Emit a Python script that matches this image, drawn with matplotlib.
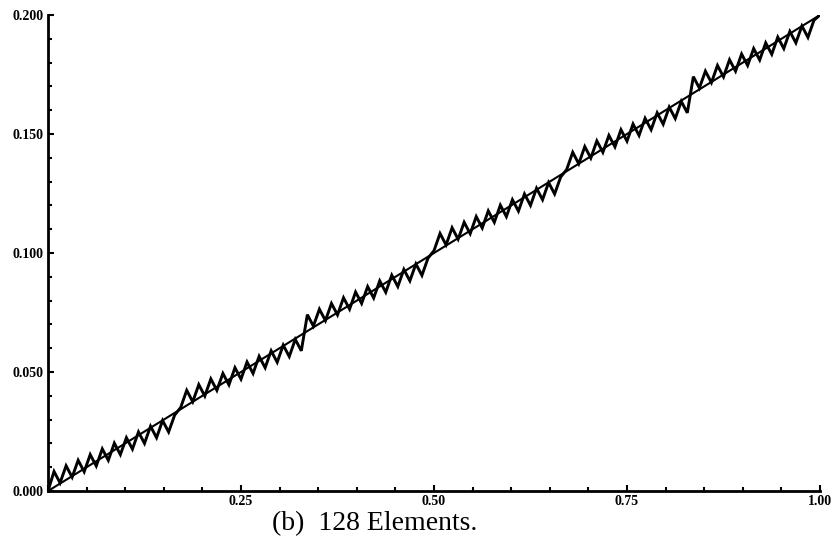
import matplotlib
matplotlib.use("Agg")
import matplotlib.pyplot as plt
from matplotlib.ticker import MultipleLocator, FuncFormatter

# exact solution: straight line
exact_x = [0.0, 1.0]
exact_y = [0.0, 0.200]

# 128-element approximation (129 nodes)
n_elements = 128
approx_y = [
    0.0000, 0.0082, 0.0034, 0.0106, 0.0058, 0.0129, 0.0081, 0.0153, 0.0105, 0.0177,
    0.0129, 0.0201, 0.0153, 0.0224, 0.0176, 0.0248, 0.0200, 0.0272, 0.0224, 0.0296,
    0.0248, 0.0319, 0.0351, 0.0423, 0.0375, 0.0447, 0.0399, 0.0471, 0.0423, 0.0494,
    0.0446, 0.0518, 0.0470, 0.0542, 0.0494, 0.0566, 0.0518, 0.0589, 0.0541, 0.0613,
    0.0565, 0.0637, 0.0589, 0.0741, 0.0693, 0.0764, 0.0716, 0.0788, 0.0740, 0.0812,
    0.0764, 0.0836, 0.0788, 0.0859, 0.0811, 0.0883, 0.0835, 0.0907, 0.0859, 0.0931,
    0.0883, 0.0954, 0.0906, 0.0978, 0.1010, 0.1082, 0.1034, 0.1106, 0.1058, 0.1129,
    0.1081, 0.1153, 0.1105, 0.1177, 0.1129, 0.1201, 0.1153, 0.1224, 0.1176, 0.1248,
    0.1200, 0.1272, 0.1224, 0.1296, 0.1248, 0.1319, 0.1351, 0.1423, 0.1375, 0.1447,
    0.1399, 0.1471, 0.1423, 0.1494, 0.1446, 0.1518, 0.1470, 0.1542, 0.1494, 0.1566,
    0.1518, 0.1589, 0.1541, 0.1613, 0.1565, 0.1637, 0.1589, 0.1741, 0.1693, 0.1764,
    0.1716, 0.1788, 0.1740, 0.1812, 0.1764, 0.1836, 0.1788, 0.1859, 0.1811, 0.1883,
    0.1835, 0.1907, 0.1859, 0.1931, 0.1883, 0.1954, 0.1906, 0.1978, 0.2000,
]
approx_x = [i / n_elements for i in range(n_elements + 1)]

caption = "(b)  128 Elements."

fig = plt.figure(figsize=(8.37, 5.48), dpi=100)
ax = fig.add_axes([48 / 837, 57 / 548, 772 / 837, 476 / 548])

ax.plot(exact_x, exact_y, color="black", lw=1.5, solid_capstyle="round")
ax.plot(approx_x, approx_y, color="black", lw=2.1, solid_joinstyle="miter")

ax.set_xlim(0, 1)
ax.set_ylim(0, 0.2)
ax.spines["top"].set_visible(False)
ax.spines["right"].set_visible(False)
ax.spines["left"].set_linewidth(2)
ax.spines["bottom"].set_linewidth(2)

ax.xaxis.set_major_locator(MultipleLocator(0.25))
ax.xaxis.set_minor_locator(MultipleLocator(0.05))
ax.yaxis.set_major_locator(MultipleLocator(0.05))
ax.yaxis.set_minor_locator(MultipleLocator(0.01))
# no label at the origin on the x axis
ax.xaxis.set_major_formatter(FuncFormatter(lambda v, p: "" if abs(v) < 1e-9 else f"{v:.2f}"))
ax.yaxis.set_major_formatter(FuncFormatter(lambda v, p: f"{v:.3f}"))
ax.tick_params(which="both", direction="in", width=1.5, color="black")
ax.tick_params(which="major", length=4, pad=3)
ax.tick_params(which="minor", length=3)
for lab in ax.get_xticklabels() + ax.get_yticklabels():
    lab.set_fontfamily("Liberation Serif")
    lab.set_fontweight("bold")
    lab.set_fontsize(10)

fig.text(375 / 837, 24 / 548, caption, fontfamily="Liberation Serif",
         fontsize=20, ha="center", va="center")

fig.savefig("out.png", dpi=100)
